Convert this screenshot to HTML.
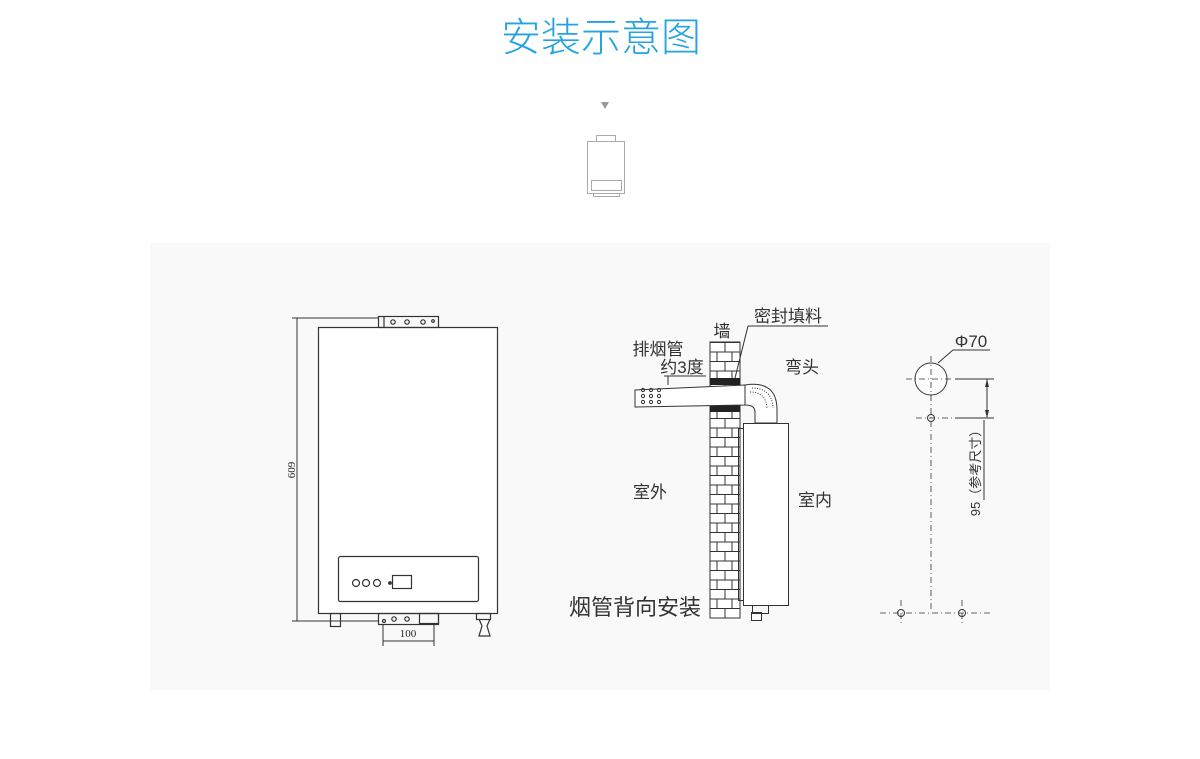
<!DOCTYPE html>
<html><head><meta charset="utf-8"><style>
html,body{margin:0;padding:0;background:#fff;width:1200px;height:759px;overflow:hidden;font-family:"Liberation Sans","Noto Sans CJK SC",sans-serif}
</style></head><body>
<svg width="1200" height="759" viewBox="0 0 1200 759" xmlns="http://www.w3.org/2000/svg" font-family="Liberation Sans, Noto Sans CJK SC, sans-serif">
<defs>
<pattern id="brick" x="710" y="342" width="30" height="19" patternUnits="userSpaceOnUse">
<rect width="30" height="19" fill="#fff"/>
<path d="M0 0.5H30M0 10H30M15 0V10M7 10V19M22 10V19" stroke="#333" stroke-width="1" fill="none"/>
</pattern>
</defs>
<text x="601" y="51" text-anchor="middle" font-size="40" fill="#24a3e2" font-family="Noto Sans CJK SC, sans-serif" font-weight="300">安装示意图</text>
<!-- icon -->
<path d="M601 102H609L605 109Z" fill="#999"/>
<g fill="none" stroke="#aaa" stroke-width="1">
<rect x="596.5" y="135.5" width="19" height="6"/>
<rect x="587.5" y="141.5" width="37" height="52"/>
<rect x="591.5" y="180.5" width="30" height="10"/>
<rect x="593.5" y="193.5" width="26" height="3"/>
</g>
<rect x="150" y="243" width="900" height="447" fill="#f9f9f9"/>
<!-- left heater -->
<g fill="none" stroke="#333" stroke-width="1.2">
<rect x="318.5" y="327.5" width="179" height="286" fill="#fff"/>
<rect x="378.5" y="316.5" width="60" height="11"/>
<line x1="384" y1="316" x2="384" y2="327"/>
<circle cx="393" cy="322" r="2.2"/><circle cx="407" cy="322" r="2.2"/><circle cx="423" cy="322" r="2.2"/><circle cx="433" cy="321" r="1.3"/>
<rect x="338.5" y="556.5" width="140" height="45" rx="2"/>
<circle cx="356" cy="583" r="3.5"/><circle cx="366" cy="583" r="3.5"/><circle cx="377" cy="583" r="3.5"/>
<rect x="392.5" y="575.5" width="19" height="13"/>
<circle cx="390" cy="583" r="1.3" fill="#333"/>
<rect x="378.5" y="613.5" width="60" height="11"/>
<circle cx="384" cy="621" r="1.5"/><circle cx="394" cy="619" r="2.2"/><circle cx="407" cy="619" r="2.2"/>
<rect x="419.5" y="613.5" width="19" height="10"/>
<rect x="330.5" y="613.5" width="10" height="13"/>
<rect x="476.5" y="613.5" width="14" height="6"/>
<path d="M479 619L482 626L479 636H490L487 626L490 619"/>
<line x1="292" y1="318" x2="378" y2="318" stroke-width="1"/>
<line x1="292" y1="621" x2="378" y2="621" stroke-width="1"/>
<line x1="297" y1="318" x2="297" y2="621" stroke-width="1"/>
<line x1="383" y1="624" x2="383" y2="646" stroke-width="1"/>
<line x1="434" y1="624" x2="434" y2="646" stroke-width="1"/>
<line x1="383" y1="641" x2="434" y2="641" stroke-width="1"/>
</g>
<text transform="translate(295,470) rotate(-90)" text-anchor="middle" font-size="11" font-family="Liberation Serif,serif" fill="#222">609</text>
<text x="408" y="637" text-anchor="middle" font-size="11" font-family="Liberation Serif,serif" fill="#222">100</text>
<!-- middle -->
<rect x="710" y="342" width="30" height="276" fill="url(#brick)" stroke="#333"/>
<rect x="710" y="378" width="30" height="7" fill="#222"/>
<rect x="710" y="405" width="30" height="7" fill="#222"/>
<g fill="none" stroke="#333" stroke-width="1">
<path d="M635 390L745 385V405L635 407Z" fill="#fff"/>
<path d="M745 385Q777 380 777 410V423H755V412Q755 405 745 405Z" fill="#fff"/>
<path d="M752 388Q772 388 773 408M750 392Q766 392 767 408" stroke-dasharray="1 1.5"/>
<rect x="743.5" y="423.5" width="45" height="182" fill="#fff"/>
<rect x="738.5" y="428.5" width="5" height="172"/>
<rect x="752.5" y="605.5" width="16" height="8"/>
<rect x="751.5" y="612.5" width="10" height="8"/>
<circle cx="643" cy="390" r="1.6"/><circle cx="651" cy="390" r="1.6"/><circle cx="659" cy="390" r="1.6"/>
<circle cx="643" cy="396" r="1.6"/><circle cx="651" cy="396" r="1.6"/><circle cx="659" cy="396" r="1.6"/>
<circle cx="643" cy="402" r="1.6"/><circle cx="651" cy="402" r="1.6"/><circle cx="659" cy="402" r="1.6"/>
<line x1="748" y1="326" x2="828" y2="326"/><line x1="748" y1="326" x2="735" y2="378"/>
<line x1="664" y1="376" x2="706" y2="376"/><line x1="668" y1="376" x2="668" y2="385"/>
</g>
<g font-size="17" fill="#333">
<text x="722" y="337" text-anchor="middle">墙</text>
<text x="788" y="322" text-anchor="middle">密封填料</text>
<text x="658" y="355" text-anchor="middle">排烟管</text>
<text x="682" y="373" text-anchor="middle">约3度</text>
<text x="802" y="373" text-anchor="middle">弯头</text>
<text x="650" y="498" text-anchor="middle">室外</text>
<text x="815" y="506" text-anchor="middle">室内</text>
<text x="635" y="615" text-anchor="middle" font-size="22">烟管背向安装</text>
</g>
<!-- right -->
<g fill="none" stroke="#333" stroke-width="1">
<circle cx="931" cy="379" r="16" fill="#fff"/>
<circle cx="931" cy="418" r="3.5"/>
<circle cx="901" cy="613" r="3.5"/><circle cx="962" cy="613" r="3.5"/>
<g stroke-dasharray="6 3 1 3" stroke-width="0.8">
<line x1="931" y1="356" x2="931" y2="609"/>
<line x1="906" y1="379" x2="952" y2="379"/>
<line x1="916" y1="418" x2="958" y2="418"/>
<line x1="880" y1="613" x2="990" y2="613"/>
<line x1="901" y1="600" x2="901" y2="625"/><line x1="962" y1="600" x2="962" y2="625"/>
</g>
<line x1="955" y1="379" x2="994" y2="379"/><line x1="955" y1="418" x2="994" y2="418"/>
<line x1="987" y1="379" x2="987" y2="418"/>
<line x1="984" y1="420" x2="984" y2="500"/>
<line x1="953" y1="350" x2="990" y2="350"/><line x1="953" y1="350" x2="938" y2="363"/>
</g>
<path d="M987 379L985 387H989ZM987 418L985 410H989Z" fill="#333"/>
<text x="971" y="347" text-anchor="middle" font-size="17" fill="#333">Φ70</text>
<text transform="translate(980,470) rotate(-90)" text-anchor="middle" font-size="13" fill="#333">95（参考尺寸）</text>
</svg>
</body></html>
